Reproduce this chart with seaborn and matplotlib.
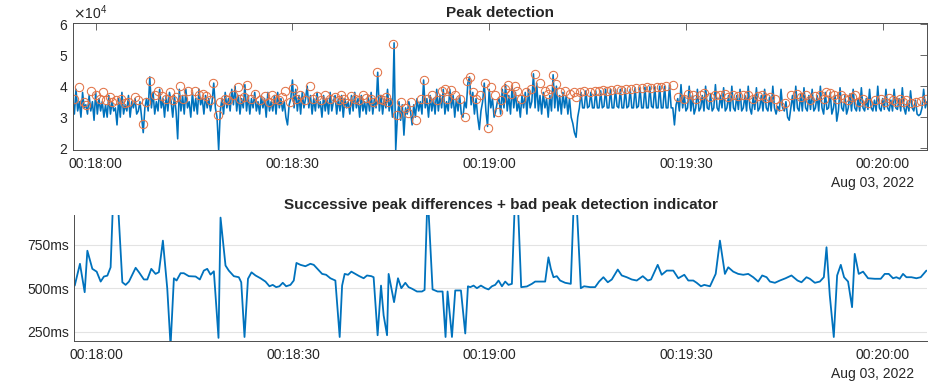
import numpy as np
import pandas as pd
import matplotlib
matplotlib.use('Agg')
import matplotlib.pyplot as plt
import matplotlib.dates as mdates
from matplotlib.ticker import ScalarFormatter, FuncFormatter
import seaborn as sns

## Data (times in seconds relative to 00:18:00, Aug 03 2022)
start = pd.Timestamp('2022-08-03 00:18:00')

# raw signal, one sample every 0.25 s starting at -3.5 s (values x10^4)
sig_t0 = -3.5
sig_dt = 0.25
signal_e4 = [
    3.6, 3.1, 3.9, 3.2, 3.5, 3.0, 3.8, 3.3, 3.4, 3.1, 3.7, 3.2, 3.5, 2.9, 3.8, 3.1, 3.6, 3.2, 3.5, 3.0,
    3.4, 3.0, 3.7, 3.1, 3.5, 3.2, 3.3, 2.75, 3.6, 3.0, 3.8, 3.1, 3.4, 3.2, 3.7, 3.0, 3.5, 3.3, 3.6, 3.1,
    3.2, 3.5, 3.0, 2.5, 3.3, 3.6, 3.2, 4.3, 3.3, 3.8, 3.1, 3.5, 3.2, 3.9, 3.3, 3.6, 3.0, 3.7, 3.2, 3.8,
    3.5, 3.0, 3.7, 3.2, 2.3, 3.9, 3.2, 3.7, 3.1, 3.9, 3.3, 3.5, 3.0, 3.8, 3.2, 3.6, 3.1, 3.9, 3.4, 3.6,
    3.1, 3.7, 3.3, 3.6, 3.2, 3.5, 4.1, 3.3, 3.0, 1.94, 3.2, 3.6, 3.1, 3.8, 3.3, 3.6, 3.2, 3.9, 3.4, 4.0,
    3.2, 3.7, 3.1, 3.6, 3.3, 4.05, 3.2, 3.7, 3.1, 3.6, 3.3, 3.8, 3.2, 3.5, 3.1, 3.7, 3.3, 3.6, 3.0, 3.8,
    3.2, 3.5, 3.2, 3.7, 3.1, 3.8, 3.3, 3.6, 3.2, 3.5, 3.0, 2.75, 3.4, 3.6, 4.2, 3.3, 3.9, 3.2, 3.7, 3.1,
    3.8, 3.3, 3.6, 4.0, 3.3, 3.7, 3.1, 3.6, 3.2, 3.8, 3.3, 3.5, 3.0, 3.7, 3.2, 3.6, 3.1, 3.8, 3.2, 3.5,
    3.7, 3.1, 3.6, 3.2, 3.7, 3.0, 3.6, 3.3, 3.5, 3.1, 3.7, 3.2, 3.8, 3.3, 3.6, 3.0, 3.7, 3.2, 3.5, 3.1,
    3.7, 3.2, 3.8, 3.1, 3.6, 3.3, 4.45, 3.2, 3.7, 3.1, 3.6, 3.3, 3.9, 3.2, 3.6, 3.0, 5.4, 1.94, 3.0, 3.5,
    2.9, 3.4, 2.42, 3.3, 3.1, 3.5, 3.2, 2.75, 3.4, 3.0, 3.6, 3.2, 3.5, 3.1, 4.2, 3.3, 3.6, 3.0, 3.7, 3.2,
    3.6, 3.1, 3.9, 3.2, 3.7, 3.3, 3.9, 3.1, 3.5, 3.2, 3.9, 3.3, 3.7, 3.0, 3.6, 3.2, 3.7, 3.1, 3.0, 3.5,
    3.3, 4.1, 4.3, 3.4, 3.8, 3.1, 3.6, 3.0, 2.6, 3.2, 3.5, 4.1, 3.2, 2.7, 3.9, 3.3, 3.6, 3.0, 3.2, 3.5,
    3.6, 3.1, 3.9, 3.3, 4.05, 3.2, 3.7, 3.1, 4.0, 3.3, 3.8, 3.2, 3.5, 3.0, 3.7, 3.3, 3.8, 3.1, 3.9, 3.3,
    3.5, 4.4, 3.3, 4.1, 3.2, 3.7, 3.1, 3.8, 3.3, 3.6, 3.0, 3.7, 3.2, 4.37, 3.3, 4.0, 3.2, 3.7, 3.1, 3.8,
    3.3, 3.7, 3.1, 3.6, 3.0, 2.8, 2.5, 2.35, 3.0, 3.3, 3.8, 3.3, 3.3, 3.85, 3.3, 3.35, 3.8, 3.3, 3.3, 3.85,
    3.3, 3.3, 3.85, 3.3, 3.35, 3.9, 3.3, 3.3, 3.9, 3.3, 3.3, 3.9, 3.35, 3.3, 3.9, 3.3, 3.3, 3.92, 3.3, 3.35,
    3.9, 3.3, 3.3, 3.95, 3.3, 3.35, 3.95, 3.3, 3.3, 3.97, 3.3, 3.3, 3.98, 3.35, 3.3, 3.98, 3.3, 3.3, 4.0, 3.3,
    3.3, 4.0, 3.3, 3.3, 4.05, 3.3, 3.3, 2.75, 3.4, 3.6, 3.2, 4.05, 3.3, 3.7, 3.2, 3.3, 4.0, 3.2, 3.7, 3.1,
    3.3, 3.9, 3.2, 3.3, 3.7, 3.2, 4.0, 3.3, 3.25, 3.75, 3.2, 3.3, 4.05, 3.3, 3.2, 3.7, 3.3, 3.95, 3.2, 3.3,
    3.7, 3.2, 4.0, 3.3, 3.2, 3.7, 3.25, 3.9, 3.2, 3.3, 3.7, 3.2, 4.0, 3.3, 3.1, 3.65, 3.25, 3.95, 3.2, 3.3,
    3.7, 3.2, 3.9, 3.3, 3.2, 3.65, 3.2, 4.0, 3.3, 3.1, 3.35, 3.2, 3.9, 3.3, 3.2, 3.5, 3.0, 2.9, 3.3, 3.7,
    3.2, 4.0, 3.3, 3.2, 3.75, 3.2, 3.95, 3.3, 3.2, 3.7, 3.25, 3.9, 3.2, 3.3, 3.7, 3.2, 4.0, 3.3, 3.1, 3.8,
    3.25, 3.3, 3.8, 3.1, 3.3, 3.7, 2.87, 3.2, 3.95, 3.3, 3.2, 3.7, 3.1, 3.3, 3.75, 3.2, 3.9, 3.3, 3.2, 3.6,
    3.2, 3.95, 3.3, 3.2, 3.6, 3.25, 3.9, 3.3, 3.2, 3.55, 3.2, 4.0, 3.3, 3.2, 3.6, 3.25, 3.9, 3.3, 3.2, 3.55,
    3.2, 3.9, 3.3, 3.25, 3.6, 3.2, 3.95, 3.3, 3.1, 3.5, 3.2, 3.85, 3.3, 3.2, 3.55, 3.1, 3.05, 3.1, 3.3, 3.9,
    3.3, 3.5,
]

# detected peaks: time (s), difference to previous peak (ms), peak height (x10^4)
rr_t = [
    -3.35, -2.55, -1.83, -1.42, -0.66, 0.00, 0.61, 1.11, 1.63, 2.13,
    2.55, 3.16, 3.92, 4.42, 4.93, 5.95, 6.45, 7.21, 7.73, 8.34,
    8.99, 9.50, 10.11, 10.78, 11.28, 11.79, 12.20, 12.81, 13.31, 14.07,
    15.10, 15.75, 16.36, 16.88, 17.38, 17.89, 18.60, 18.91, 19.67, 20.17,
    20.94, 21.70, 22.07, 22.57, 23.10, 23.64, 24.25, 25.01, 25.77, 26.38,
    26.88, 27.40, 27.90, 28.41, 28.93, 29.58, 30.09, 30.50, 31.11, 31.87,
    32.63, 33.14, 33.81, 34.42, 35.03, 35.68, 36.44, 37.10, 37.47, 37.86,
    38.38, 38.88, 39.49, 40.10, 40.76, 41.27, 41.93, 42.28, 42.89, 43.41,
    43.81, 44.33, 44.57, 45.40, 46.00, 46.51, 47.12, 47.62, 48.14, 48.90,
    49.66, 50.06, 50.52, 51.28, 52.04, 52.81, 53.26, 53.57, 54.24, 54.74,
    55.61, 56.27, 56.68, 57.03, 57.54, 58.05, 58.66, 59.32, 59.82, 60.34,
    60.84, 61.35, 61.87, 62.37, 62.87, 63.39, 63.89, 64.24, 64.81, 65.68,
    66.44, 66.94, 67.70, 68.47, 68.97, 69.34, 69.74, 70.25, 70.75, 71.52,
    72.38, 72.89, 73.19, 73.91, 74.41, 75.33, 76.09, 76.70, 77.36, 78.03,
    78.64, 79.55, 80.16, 80.92, 81.69, 82.45, 83.37, 84.13, 84.63, 85.65,
    86.26, 87.03, 88.03, 88.79, 89.71, 90.32, 91.08, 91.60, 92.25, 92.76,
    93.63, 94.50, 95.15, 95.91, 96.42, 97.18, 97.94, 98.71, 99.47, 100.23,
    100.99, 101.60, 102.27, 102.78, 103.54, 104.30, 105.17, 106.07, 106.99, 107.60,
    108.36, 108.87, 109.64, 110.40, 111.01, 111.42, 111.92, 112.53, 113.04, 113.60,
    114.10, 114.71, 115.32, 115.73, 116.34, 117.00, 117.76, 118.78, 119.70, 120.31,
    120.92, 121.57, 122.09, 122.59, 123.10, 123.62, 124.38, 125.14, 125.80, 126.67,
]
rr_ms = [
    515, 640, 477, 715, 611, 595, 538, 567, 572, 620,
    1050, 1050, 534, 519, 538, 617, 592, 550, 550, 611,
    582, 592, 773, 497, 170, 557, 544, 586, 586, 569,
    567, 550, 601, 611, 578, 597, 215, 905, 630, 601,
    569, 563, 534, 220, 554, 591, 573, 557, 538, 511,
    519, 506, 511, 531, 511, 519, 544, 645, 634, 626,
    640, 634, 607, 582, 577, 557, 544, 220, 515, 582,
    577, 595, 582, 569, 557, 573, 569, 563, 230, 515,
    344, 230, 582, 420, 557, 500, 531, 506, 497, 481,
    481, 490, 1050, 493, 481, 481, 220, 481, 220, 487,
    487, 240, 511, 506, 515, 500, 515, 500, 493, 511,
    519, 544, 511, 538, 519, 525, 1050, 1050, 506, 510,
    525, 538, 538, 538, 677, 611, 563, 569, 544, 531,
    525, 1050, 1050, 500, 511, 506, 506, 538, 563, 534,
    550, 607, 573, 563, 550, 544, 569, 544, 550, 634,
    577, 601, 601, 557, 577, 544, 544, 531, 511, 519,
    511, 582, 773, 582, 620, 595, 582, 577, 582, 563,
    538, 573, 563, 538, 531, 544, 557, 573, 544, 534,
    563, 554, 531, 538, 563, 735, 458, 220, 573, 634,
    563, 538, 391, 697, 582, 595, 557, 554, 554, 582,
    582, 557, 563, 554, 582, 563, 563, 557, 563, 601,
]
peak_e4 = [
    3.6, 3.98, 3.5, 3.4, 3.85, 3.7, 3.6, 3.8, 3.55, 3.65,
    3.5, 3.56, 3.6, 3.45, 3.5, 3.65, 3.56, 2.78, 3.5, 4.16,
    3.7, 3.85, 3.67, 3.6, 3.8, 3.55, 3.65, 4.0, 3.6, 3.83,
    3.85, 3.7, 3.75, 3.67, 3.55, 4.1, 3.07, 3.5, 3.6, 3.55,
    3.7, 3.98, 3.6, 3.65, 4.05, 3.6, 3.75, 3.55, 3.67, 3.5,
    3.72, 3.6, 3.55, 3.65, 3.85, 3.5, 3.95, 3.6, 3.72, 3.55,
    4.0, 3.6, 3.67, 3.55, 3.7, 3.6, 3.65, 3.55, 3.7, 3.6,
    3.45, 3.68, 3.6, 3.55, 3.7, 3.62, 3.6, 3.5, 4.45, 3.6,
    3.55, 3.65, 3.5, 5.35, 3.07, 3.5, 3.3, 3.14, 3.5, 2.9,
    3.6, 4.2, 3.6, 3.7, 3.55, 3.85, 3.9, 3.6, 3.88, 3.7,
    3.6, 3.0, 4.16, 4.3, 3.8, 3.6, 3.7, 4.1, 2.66, 3.98,
    3.7, 3.18, 3.56, 3.9, 4.05, 3.75, 4.0, 3.85, 3.6, 3.8,
    3.9, 4.4, 4.1, 3.85, 3.75, 3.9, 4.37, 4.08, 3.8, 3.85,
    3.75, 3.8, 3.65, 3.8, 3.85, 3.82, 3.85, 3.83, 3.87, 3.85,
    3.88, 3.9, 3.87, 3.92, 3.9, 3.95, 3.93, 3.97, 3.95, 3.98,
    3.96, 4.0, 4.03, 3.65, 3.6, 3.75, 3.7, 3.6, 3.72, 3.78,
    3.65, 3.72, 3.7, 3.75, 3.65, 3.72, 3.68, 3.72, 3.7, 3.6,
    3.68, 3.7, 3.62, 3.65, 3.6, 3.35, 3.45, 3.72, 3.75, 3.65,
    3.7, 3.55, 3.68, 3.72, 3.6, 3.8, 3.78, 3.7, 3.6, 3.72,
    3.62, 3.55, 3.65, 3.72, 3.5, 3.6, 3.45, 3.55, 3.6, 3.5,
    3.62, 3.55, 3.48, 3.6, 3.5, 3.55, 3.45, 3.5, 3.52, 3.6,
]

## Build dataframes
sig_sec = sig_t0 + sig_dt * np.arange(len(signal_e4))
sig_df = pd.DataFrame({'time': start + pd.to_timedelta(sig_sec, unit='s'),
                       'value': np.array(signal_e4) * 1e4})
peaks_df = pd.DataFrame({'time': start + pd.to_timedelta(rr_t, unit='s'),
                         'value': np.array(peak_e4) * 1e4,
                         'diff_ms': rr_ms})

## Style
sns.set_style('white')
plt.rcParams['font.family'] = ['Liberation Sans', 'DejaVu Sans']
blue = '#0072BD'
orange = '#E27448'
axcol = '#4d4d4d'
txtcol = '#262626'

fig = plt.figure(figsize=(9.34, 3.86), dpi=100)
ax1 = fig.add_axes([73 / 934, 1 - 150 / 386, 854 / 934, 127 / 386])
ax2 = fig.add_axes([74 / 934, 1 - 341 / 386, 853 / 934, 126 / 386])

x_lo = start + pd.Timedelta(seconds=-3.46)
x_hi = start + pd.Timedelta(seconds=126.76)

# Top: peak detection
sns.lineplot(data=sig_df, x='time', y='value', ax=ax1, color=blue, linewidth=1.15,
             estimator=None, errorbar=None)
sns.lineplot(data=peaks_df, x='time', y='value', ax=ax1, linestyle='', marker='o',
             markersize=6, markerfacecolor='none', markeredgecolor=orange,
             markeredgewidth=0.75, estimator=None, errorbar=None)
ax1.set_ylim(1.94e4, 6.04e4)
ax1.set_yticks([2e4, 3e4, 4e4, 5e4, 6e4])
fmt = ScalarFormatter(useMathText=True)
fmt.set_powerlimits((0, 0))
ax1.yaxis.set_major_formatter(fmt)
ax1.yaxis.get_offset_text().set_fontsize(10)
ax1.yaxis.get_offset_text().set_color(txtcol)
ax1.set_title('Peak detection', fontsize=11, fontweight='bold', pad=4)
ax1.tick_params(top=True, right=True)

# Bottom: successive differences
sns.lineplot(data=peaks_df, x='time', y='diff_ms', ax=ax2, color=blue, linewidth=1.3,
             estimator=None, errorbar=None)
ax2.set_ylim(197, 920)
ax2.set_yticks([250, 500, 750])
ax2.yaxis.set_major_formatter(FuncFormatter(lambda v, p: f'{v:g}ms'))
ax2.yaxis.grid(True, color='#e3e3e3', linewidth=0.8)
ax2.set_axisbelow(True)
ax2.spines['top'].set_visible(False)
ax2.spines['right'].set_visible(False)
ax2.set_title('Successive peak differences + bad peak detection indicator',
              fontsize=11, fontweight='bold', pad=4)

for ax in (ax1, ax2):
    ax.set_xlim(x_lo, x_hi)
    ax.xaxis.set_major_locator(mdates.SecondLocator(bysecond=[0, 30]))
    ax.xaxis.set_major_formatter(mdates.DateFormatter('%H:%M:%S'))
    ax.set_xlabel('')
    ax.set_ylabel('')
    ax.tick_params(direction='in', length=5, width=0.6, color=axcol,
                   labelsize=10, labelcolor=txtcol)
    ax.tick_params(axis='x', pad=5)
    for s in ax.spines.values():
        s.set_color(axcol)
        s.set_linewidth(0.7)
    ax.annotate('Aug 03, 2022', xy=(0.985, 0), xycoords='axes fraction',
                xytext=(0, -23.5), textcoords='offset points',
                ha='right', va='center', fontsize=10, color=txtcol)

plt.savefig('out.png', dpi=100)
